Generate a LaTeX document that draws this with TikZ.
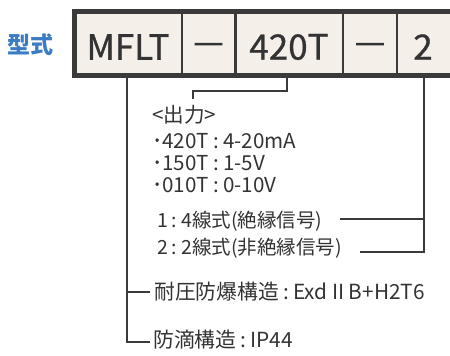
\documentclass[tikz,border=0pt]{standalone}
\usepackage{fontspec}
\setmainfont{Noto Sans CJK JP}
\newfontfamily\cellfont[FakeBold=0.8]{Noto Sans CJK JP}
\newfontfamily\dashfont[FakeBold=2.5]{Liberation Sans}
\newcommand\jcolon{\hspace{0.2em}:\hspace{0.2em}}
\definecolor{framec}{HTML}{3A3A3A}
\definecolor{cellc}{HTML}{F4EFE9}
\definecolor{textc}{HTML}{333333}
\definecolor{bluec}{HTML}{3B7DC4}
\tikzset{
  cell/.style={inner sep=0pt, text=textc, font=\cellfont\fontsize{35}{38}\selectfont, anchor=center},
  dashcell/.style={cell, font=\dashfont\fontsize{27}{30}\selectfont},
  lbl/.style={inner xsep=0pt, inner ysep=0pt, anchor=west, text=textc, font=\fontsize{19.5}{21}\selectfont},
  lblout/.style={lbl, font=\fontsize{20.6}{22}\selectfont},
  lblbig/.style={inner xsep=0pt, inner ysep=0pt, anchor=west, text=textc, font=\fontsize{20.8}{22}\selectfont},
  conn/.style={draw=framec, line width=2pt},
}
\begin{document}
\begin{tikzpicture}[x=1pt,y={(0pt,-1pt)}]
\useasboundingbox (0,0) rectangle (450,356);
% frame
\fill[cellc] (74,11.5) rectangle (455,75.5);
% cells
\node[cell] (c1) at (128,47) {MFLT};
\node[dashcell] (c2) at (208.5,47) {—};
\node[cell] (c3) at (289,47) {420T};
\node[dashcell] (c4) at (370,47) {—};
\node[cell] (c5) at (423,47) {2};
\node[inner sep=0pt, text=bluec, font=\fontsize{23}{25}\selectfont\bfseries] (kata) at (31,45) {型式};
% text lines
\node[lblout] (o0) at (152,115) {<出力>};
\node[lblout] (o1) at (152,141) {･420T\jcolon 4-20mA};
\node[lblout] (o2) at (152,163) {･150T\jcolon 1-5V};
\node[lblout] (o3) at (152,185) {･010T\jcolon 0-10V};
\node[lbl] (w1) at (157,221) {1\jcolon 4線式(絶縁信号)};
\node[lbl] (w2) at (157,248.5) {2\jcolon 2線式(非絶縁信号)};
\node[lblbig] (e1) at (154,292) {耐圧防爆構造\jcolon Exd II B+H2T6};
\node[lblbig] (e2) at (153,340) {防滴構造\jcolon IP44};
% connectors
\coordinate (c1b) at (127,75);
\coordinate (c3b) at (287,75);
\coordinate (c5b) at (424,75);
\coordinate (o0t) at (193,99);
\coordinate (w1e) at (340,219);
\coordinate (w2e) at (360,252);
\coordinate (e1w) at (150,292);
\coordinate (e2w) at (150,342);
\draw[conn] (c3b) -- (287,91) -| (o0t);
\draw[conn] (c5b) |- (w2e);
\draw[conn] (c5b |- w1e) -- (w1e);
\draw[conn] (c1b) |- (e2w);
\draw[conn] (c1b |- e1w) -- (e1w);
% dividers and frame
\foreach \x in {182,235.5,343,397}{\draw[framec, line width=2.5pt] (\x,13) -- (\x,74);}
\draw[framec, line width=5pt] (74.5,11.5) rectangle (455,75.8);
\end{tikzpicture}
\end{document}
